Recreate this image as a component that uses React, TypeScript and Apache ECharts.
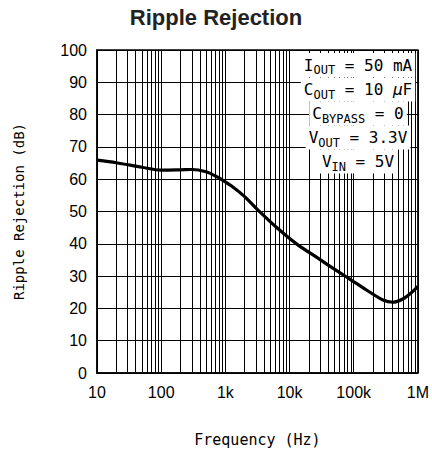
import React, { useEffect, useRef } from "react";
import * as echarts from "echarts";

const freqHz = [10, 20, 50, 100, 200, 300, 500, 700, 880, 1250, 2000, 3200, 6500, 13000, 27000, 55000, 88000, 158000, 286000, 408000, 582000, 829000, 1000000];
const rejectionDb = [65.9, 65.1, 63.7, 62.8, 62.9, 63.0, 62.3, 61.0, 59.9, 57.9, 54.6, 50.5, 44.8, 39.9, 35.7, 31.6, 29.0, 25.7, 22.6, 21.9, 22.9, 25.2, 26.8];

const decades = [10, 100, 1000, 10000, 100000];
const minorMultipliers = [2, 3, 4, 5, 6, 7, 8, 9];
const xTickLabels: Record<number, string> = { 10: "10", 100: "100", 1000: "1k", 10000: "10k", 100000: "100k", 1000000: "1M" };

const annotationLines = [
  "{n|I}{s|OUT}{n| = 50 mA}",
  "{n|C}{s|OUT}{n| = 10 }{m|μ}{n|F}",
  "{n|C}{s|BYPASS}{n| = 0}",
  "{n|V}{s|OUT}{n| = 3.3V}",
  "{n|V}{s|IN}{n| = 5V}",
];

const MONO = "DejaVu Sans Mono";
const SANS = "Liberation Sans";

export default function App() {
  const ref = useRef<HTMLDivElement>(null);
  useEffect(() => {
    if (!ref.current) return;
    const chart = echarts.init(ref.current, null, { renderer: "svg" });
    const minorLines: { xAxis: number }[] = [];
    decades.forEach((d) => minorMultipliers.forEach((m) => minorLines.push({ xAxis: d * m })));
    const rich = {
      n: { fontFamily: MONO, fontSize: 16, lineHeight: 22, color: "#000" },
      m: { fontFamily: MONO, fontSize: 16, lineHeight: 22, fontStyle: "italic", color: "#000" },
      s: { fontFamily: MONO, fontSize: 12, lineHeight: 10, verticalAlign: "bottom", color: "#000" },
    };
    const lineY = [65, 89.5, 113.5, 137.5, 161.5];
    chart.setOption({
      animation: false,
      title: {
        text: "Ripple Rejection",
        left: "center",
        top: 1,
        textStyle: { fontFamily: SANS, fontSize: 22, fontWeight: "bold", color: "#222" },
      },
      grid: { left: 97, right: 10, top: 50, bottom: 82, show: true, borderColor: "#000", borderWidth: 1.5 },
      xAxis: {
        type: "log",
        logBase: 10,
        min: 10,
        max: 1000000,
        name: "Frequency (Hz)",
        nameLocation: "middle",
        nameGap: 59,
        nameTextStyle: { fontFamily: MONO, fontSize: 15, color: "#000" },
        axisLine: { show: true, lineStyle: { color: "#000", width: 1.5 } },
        axisTick: { show: false },
        axisLabel: {
          fontFamily: SANS,
          fontSize: 16,
          color: "#000",
          margin: 11,
          formatter: (v: number) => xTickLabels[Math.round(v)] ?? "",
        },
        splitLine: { show: true, lineStyle: { color: "#000", width: 1 } },
      },
      yAxis: {
        type: "value",
        min: 0,
        max: 100,
        interval: 10,
        name: "Ripple Rejection (dB)",
        nameLocation: "middle",
        nameGap: 71,
        nameTextStyle: { fontFamily: MONO, fontSize: 14, color: "#000" },
        axisLine: { show: true, lineStyle: { color: "#000", width: 1.5 } },
        axisTick: { show: false },
        axisLabel: { fontFamily: SANS, fontSize: 16, color: "#000", margin: 10 },
        splitLine: { show: true, lineStyle: { color: "#000", width: 1 } },
      },
      series: [
        {
          type: "line",
          data: [],
          z: 1,
          silent: true,
          markLine: {
            silent: true,
            symbol: ["none", "none"],
            label: { show: false },
            lineStyle: { color: "#000", width: 1, type: "solid" },
            emphasis: { disabled: true },
            data: minorLines,
          },
        },
        {
          type: "line",
          z: 5,
          smooth: 0.3,
          showSymbol: false,
          silent: true,
          lineStyle: { color: "#000", width: 3.2 },
          data: freqHz.map((f, i) => [f, rejectionDb[i]]),
        },
      ],
      graphic: annotationLines.map((t, i) => ({
        type: "text",
        x: 358,
        y: lineY[i],
        z: 100,
        silent: true,
        style: {
          text: t,
          rich,
          align: "center",
          verticalAlign: "middle",
          backgroundColor: "#fff",
          padding: [1, 3],
        },
      })),
    });
    return () => chart.dispose();
  }, []);
  return <div ref={ref} style={{ position: "absolute", left: 0, top: 0, width: 432, height: 455 }} />;
}
